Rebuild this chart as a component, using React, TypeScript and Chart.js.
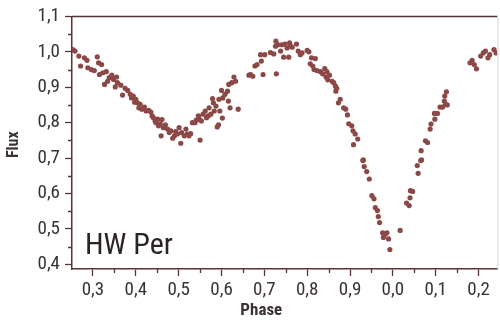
import { useEffect, useRef } from "react";
import { Chart, registerables } from "chart.js";
Chart.register(...registerables);

const phase = [
  0.253, 0.258, 0.267, 0.271, 0.28, 0.286, 0.288, 0.296, 0.303, 0.31, 0.313, 0.315, 0.32, 0.323, 0.327, 0.331,
  0.334, 0.338, 0.344, 0.348, 0.352, 0.355, 0.357, 0.365, 0.369, 0.375, 0.381, 0.387, 0.39, 0.394, 0.397, 0.4,
  0.404, 0.407, 0.41, 0.414, 0.42, 0.424, 0.43, 0.435, 0.438, 0.441, 0.445, 0.447, 0.451, 0.453, 0.457, 0.459,
  0.461, 0.464, 0.469, 0.474, 0.478, 0.482, 0.486, 0.49, 0.493, 0.497, 0.501, 0.505, 0.507, 0.513, 0.517, 0.52,
  0.524, 0.528, 0.532, 0.538, 0.541, 0.546, 0.548, 0.55, 0.553, 0.557, 0.562, 0.565, 0.569, 0.571, 0.575, 0.579,
  0.581, 0.583, 0.587, 0.59, 0.593, 0.594, 0.596, 0.6, 0.602, 0.603, 0.608, 0.614, 0.616, 0.617, 0.62, 0.624,
  0.629, 0.633, 0.639, 0.664, 0.668, 0.673, 0.678, 0.683, 0.693, 0.691, 0.697, 0.701, 0.714, 0.722, 0.726, 0.727,
  0.728, 0.732, 0.738, 0.741, 0.745, 0.748, 0.753, 0.757, 0.759, 0.761, 0.765, 0.775, 0.779, 0.784, 0.788, 0.8,
  0.804, 0.807, 0.81, 0.813, 0.816, 0.819, 0.823, 0.831, 0.836, 0.841, 0.844, 0.846, 0.848, 0.852, 0.858, 0.862,
  0.866, 0.867, 0.869, 0.873, 0.877, 0.885, 0.89, 0.894, 0.897, 0.904, 0.907, 0.912, 0.908, 0.918, 0.931, 0.93,
  0.933, 0.939, 0.945, 0.951, 0.956, 0.959, 0.964, 0.966, 0.969, 0.976, 0.982, 0.978, 0.986, 0.99, 0.993, 1.017,
  1.032, 1.038, 1.04, 1.041, 1.046, 1.059, 1.057, 1.065, 1.066, 1.067, 1.076, 1.081, 1.087, 1.089, 1.098, 1.097,
  1.104, 1.11, 1.116, 1.12, 1.123, 1.127, 1.121, 1.125, 1.18, 1.185, 1.19, 1.195, 1.205, 1.211, 1.216, 1.222,
  1.226, 1.236, 1.241,
];
const flux = [
  1.006, 1.002, 0.988, 0.96, 0.983, 0.976, 0.955, 0.95, 0.947, 0.986, 0.969, 0.936, 0.964, 0.941, 0.908, 0.944,
  0.917, 0.927, 0.934, 0.922, 0.901, 0.929, 0.913, 0.906, 0.878, 0.897, 0.891, 0.88, 0.87, 0.875, 0.858, 0.866,
  0.856, 0.842, 0.852, 0.838, 0.844, 0.833, 0.835, 0.83, 0.819, 0.814, 0.805, 0.8, 0.81, 0.791, 0.797, 0.763,
  0.809, 0.786, 0.794, 0.782, 0.772, 0.777, 0.756, 0.763, 0.775, 0.768, 0.786, 0.742, 0.772, 0.763, 0.782, 0.768,
  0.763, 0.769, 0.8, 0.8, 0.807, 0.819, 0.81, 0.751, 0.805, 0.824, 0.833, 0.814, 0.819, 0.842, 0.824, 0.868,
  0.856, 0.833, 0.847, 0.788, 0.794, 0.866, 0.833, 0.891, 0.813, 0.87, 0.88, 0.889, 0.861, 0.908, 0.842, 0.913,
  0.929, 0.917, 0.838, 0.934, 0.936, 0.931, 0.96, 0.964, 0.974, 0.992, 0.936, 0.992, 0.998, 0.994, 1.016, 1.03,
  0.938, 1.02, 1.002, 1.02, 0.985, 1.022, 1.011, 0.985, 1.025, 1.016, 1.013, 1.022, 1.002, 0.992, 0.997, 1.004,
  1.0, 0.966, 0.983, 0.96, 0.95, 0.981, 0.947, 0.944, 0.938, 0.953, 0.929, 0.944, 0.921, 0.934, 0.917, 0.913,
  0.903, 0.889, 0.897, 0.856, 0.866, 0.842, 0.838, 0.822, 0.797, 0.791, 0.777, 0.768, 0.738, 0.754, 0.695, 0.693,
  0.676, 0.662, 0.641, 0.594, 0.585, 0.56, 0.552, 0.535, 0.518, 0.489, 0.485, 0.476, 0.489, 0.472, 0.442, 0.496,
  0.573, 0.566, 0.588, 0.608, 0.606, 0.657, 0.679, 0.693, 0.721, 0.695, 0.749, 0.744, 0.782, 0.796, 0.81, 0.826,
  0.826, 0.844, 0.844, 0.861, 0.852, 0.85, 0.875, 0.887, 0.969, 0.976, 0.964, 0.952, 0.988, 0.997, 1.002, 0.983,
  0.992, 1.006, 0.997,
];

const xTickValues = [0.3, 0.4, 0.5, 0.6, 0.7, 0.8, 0.9, 1.0, 1.1, 1.2];
const xTickLabels = ["0,3", "0,4", "0,5", "0,6", "0,7", "0,8", "0,9", "0,0", "0,1", "0,2"];
const xMinorTicks = [0.35, 0.45, 0.55, 0.65, 0.75, 0.85, 0.95, 1.05, 1.15];
const yTickValues = [0.4, 0.5, 0.6, 0.7, 0.8, 0.9, 1.0, 1.1];
const yTickLabels = ["0,4", "0,5", "0,6", "0,7", "0,8", "0,9", "1,0", "1,1"];
const yMinorTicks = [0.45, 0.55, 0.65, 0.75, 0.85, 0.95, 1.05];

const xTitle = "Phase";
const yTitle = "Flux";
const starName = "HW Per";

const FONT = "'Liberation Sans Narrow', 'Arial Narrow', 'Roboto Condensed', 'DejaVu Sans Condensed', sans-serif";
const AXIS = "#553535";
const TEXT = "#3a3232";
const DOT = "#8b4846";

function labelFor(values: number[], labels: string[], v: number) {
  const i = values.findIndex((t) => Math.abs(t - v) < 1e-6);
  return i >= 0 ? labels[i] : "";
}

const decor = {
  id: "decor",
  afterDraw(chart: any) {
    const { ctx, chartArea, scales } = chart;
    const x = scales.x;
    const y = scales.y;
    ctx.save();
    ctx.strokeStyle = AXIS;
    ctx.lineWidth = 1.3;
    ctx.beginPath();
    for (const v of xMinorTicks) {
      const px = Math.round(x.getPixelForValue(v)) + 0.5;
      ctx.moveTo(px, chartArea.bottom);
      ctx.lineTo(px, chartArea.bottom + 4);
    }
    for (const v of yMinorTicks) {
      const py = Math.round(y.getPixelForValue(v)) + 0.5;
      ctx.moveTo(chartArea.left - 4, py);
      ctx.lineTo(chartArea.left, py);
    }
    ctx.stroke();
    // top frame
    ctx.lineWidth = 1.5;
    ctx.beginPath();
    ctx.moveTo(chartArea.left, chartArea.top);
    ctx.lineTo(chartArea.right, chartArea.top);
    ctx.stroke();
    // faint right frame
    ctx.strokeStyle = "#d4dbe2";
    ctx.lineWidth = 1;
    ctx.beginPath();
    ctx.moveTo(chartArea.right + 0.5, chartArea.top);
    ctx.lineTo(chartArea.right + 0.5, chartArea.bottom);
    ctx.stroke();
    // titles
    ctx.fillStyle = TEXT;
    ctx.font = `bold 17px ${FONT}`;
    ctx.textAlign = "center";
    ctx.textBaseline = "middle";
    ctx.fillText(xTitle, chartArea.left + (chartArea.right - chartArea.left) * 0.445, 311);
    ctx.save();
    ctx.translate(14, (chartArea.top + chartArea.bottom) / 2 + 2);
    ctx.rotate(-Math.PI / 2);
    ctx.font = `bold 16px ${FONT}`;
    ctx.fillText(yTitle, 0, 0);
    ctx.restore();
    // star name
    ctx.font = `30px ${FONT}`;
    ctx.fillStyle = "#2a2424";
    ctx.textAlign = "left";
    ctx.textBaseline = "alphabetic";
    ctx.fillText(starName, chartArea.left + 13, chartArea.bottom - 15);
    ctx.restore();
  },
};

export default function App() {
  const ref = useRef<HTMLCanvasElement | null>(null);
  useEffect(() => {
    if (!ref.current) return;
    const chart = new Chart(ref.current, {
      type: "scatter",
      data: {
        datasets: [
          {
            data: phase.map((p, i) => ({ x: p, y: flux[i] })),
            pointRadius: 2.6,
            pointHoverRadius: 2.6,
            backgroundColor: DOT,
            borderWidth: 0,
          },
        ],
      },
      options: {
        animation: false,
        responsive: false,
        events: [],
        layout: { padding: { top: 15, right: 1, left: 0, bottom: 0 } },
        plugins: { legend: { display: false }, tooltip: { enabled: false } },
        scales: {
          x: {
            type: "linear",
            min: 0.251,
            max: 1.244,
            afterBuildTicks: (s: any) => {
              s.ticks = xTickValues.map((v) => ({ value: v }));
            },
            afterFit: (s: any) => {
              s.height = 51;
            },
            ticks: {
              autoSkip: false,
              maxRotation: 0,
              padding: 3,
              color: TEXT,
              font: { family: FONT, size: 19 },
              callback: (v: any) => labelFor(xTickValues, xTickLabels, Number(v)),
            },
            grid: { drawOnChartArea: false, drawTicks: true, tickLength: 7, tickWidth: 1.3, tickColor: AXIS },
            border: { display: true, color: AXIS, width: 1.5 },
          },
          y: {
            type: "linear",
            min: 0.387,
            max: 1.1,
            afterBuildTicks: (s: any) => {
              s.ticks = yTickValues.map((v) => ({ value: v }));
            },
            afterFit: (s: any) => {
              s.width = 72;
            },
            ticks: {
              autoSkip: false,
              padding: 5,
              color: TEXT,
              font: { family: FONT, size: 19 },
              callback: (v: any) => labelFor(yTickValues, yTickLabels, Number(v)),
            },
            grid: { drawOnChartArea: false, drawTicks: true, tickLength: 7, tickWidth: 1.3, tickColor: AXIS },
            border: { display: true, color: AXIS, width: 1.5 },
          },
        },
      },
      plugins: [decor],
    });
    return () => chart.destroy();
  }, []);
  return (
    <div style={{ position: "fixed", left: 0, top: 0, width: 500, height: 320, background: "#fff" }}>
      <canvas ref={ref} width={500} height={320} style={{ display: "block" }} />
    </div>
  );
}
